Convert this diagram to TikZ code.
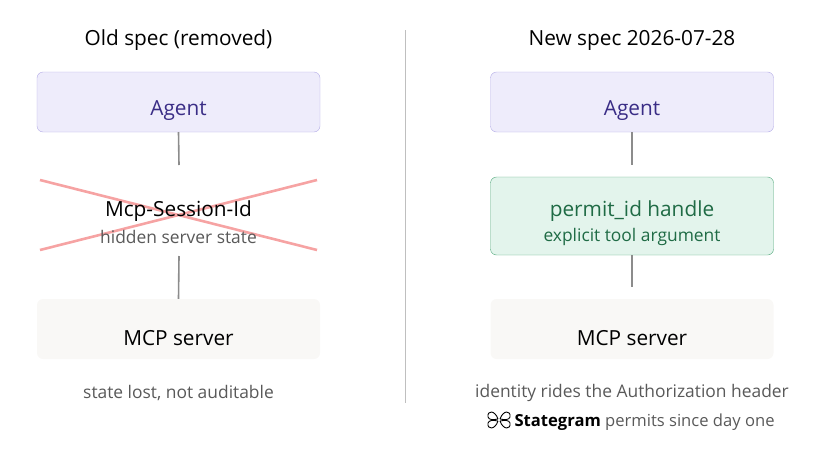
\documentclass[tikz,border=0pt]{standalone}
\usepackage{fontspec}
\setmainfont{Open Sans}
\begin{document}
\begin{tikzpicture}[x=1pt,y=-1pt,
 box/.style={rounded corners=6pt,minimum width=283pt,minimum height=60pt,inner sep=0pt},
 conn/.style={draw=black!45,line width=1.6pt},
 big/.style={font=\fontsize{20.8}{22}\selectfont},
 sub/.style={font=\fontsize{17.4}{19}\selectfont,text=black!65}]
\useasboundingbox (0,0) rectangle (826,458);
\definecolor{ag}{HTML}{EEECFB}\definecolor{agb}{HTML}{B3ABE6}\definecolor{agt}{HTML}{3A2D86}
\definecolor{gr}{HTML}{E3F4EC}\definecolor{grb}{HTML}{4FA77A}\definecolor{grt}{HTML}{1F6B45}
\definecolor{sv}{HTML}{F9F8F6}\definecolor{xr}{HTML}{F6A3A3}
\node[big] (lt) at (178.5,40) {Old spec (removed)};
\node[big] (rt) at (632,40) {New spec 2026-07-28};
\draw[draw=black!25,line width=0.8pt] (405,30) -- (405,403);
\node[box,fill=ag,draw=agb] (la) at (178.5,102) {};
\node[box,fill=ag,draw=agb] (ra) at (632,102) {};
\node[big,text=agt] (lat) at (178.5,111) {Agent};
\node[big,text=agt] (rat) at (632,111) {Agent};
\node[box,fill=sv] (ls) at (178.5,329) {};
\node[box,fill=sv] (rs) at (632,329) {};
\node[big] (lst) at (178.5,338) {MCP server};
\node[big] (rst) at (632,338) {MCP server};
\node[box,draw=none,minimum height=80pt] (lm) at (178.5,216) {};
\draw[xr,line width=2.6pt] (40,180) -- (317,250) (40,250) -- (317,180);
\node[big] (lm1) at (178.5,211) {Mcp-Session-Id};
\node[sub] (lm2) at (178.5,237) {hidden server state};
\node[box,fill=gr,draw=grb,minimum height=78pt] (rm) at (632,216) {};
\node[big,text=grt] (rm1) at (632,211) {permit\_id handle};
\node[sub,text=grt] (rm2) at (632,237) {explicit tool argument};
\coordinate (l1) at (179,165); \coordinate (l2) at (179,256);
\draw[conn] (la.south) -- (l1); \draw[conn] (l2) -- (ls.north);
\draw[conn] (ra.south) -- (632,165); \draw[conn] (632,255) -- (632,287);
\node[sub] (lc) at (178.5,393) {state lost, not auditable};
\node[sub] (rc) at (632,393) {identity rides the Authorization header};
\node[sub,anchor=west,font=\fontsize{16.6}{18}\selectfont] (rd) at (511,422) {{\color{black}\bfseries Stategram} permits since day one};
\begin{scope}[shift={(499,420)},line width=0.9pt]
\draw (-1,-1) .. controls (-4,-10) and (-12,-10) .. (-11,-3) .. controls (-10,0) and (-6,0) .. (-1,-1);
\draw (-1,1) .. controls (-4,10) and (-12,10) .. (-11,3) .. controls (-10,0) and (-6,0) .. (-1,1);
\draw (1,-1) .. controls (4,-10) and (12,-10) .. (11,-3) .. controls (10,0) and (6,0) .. (1,-1);
\draw (1,1) .. controls (4,10) and (12,10) .. (11,3) .. controls (10,0) and (6,0) .. (1,1);
\end{scope}
\end{tikzpicture}
\end{document}
